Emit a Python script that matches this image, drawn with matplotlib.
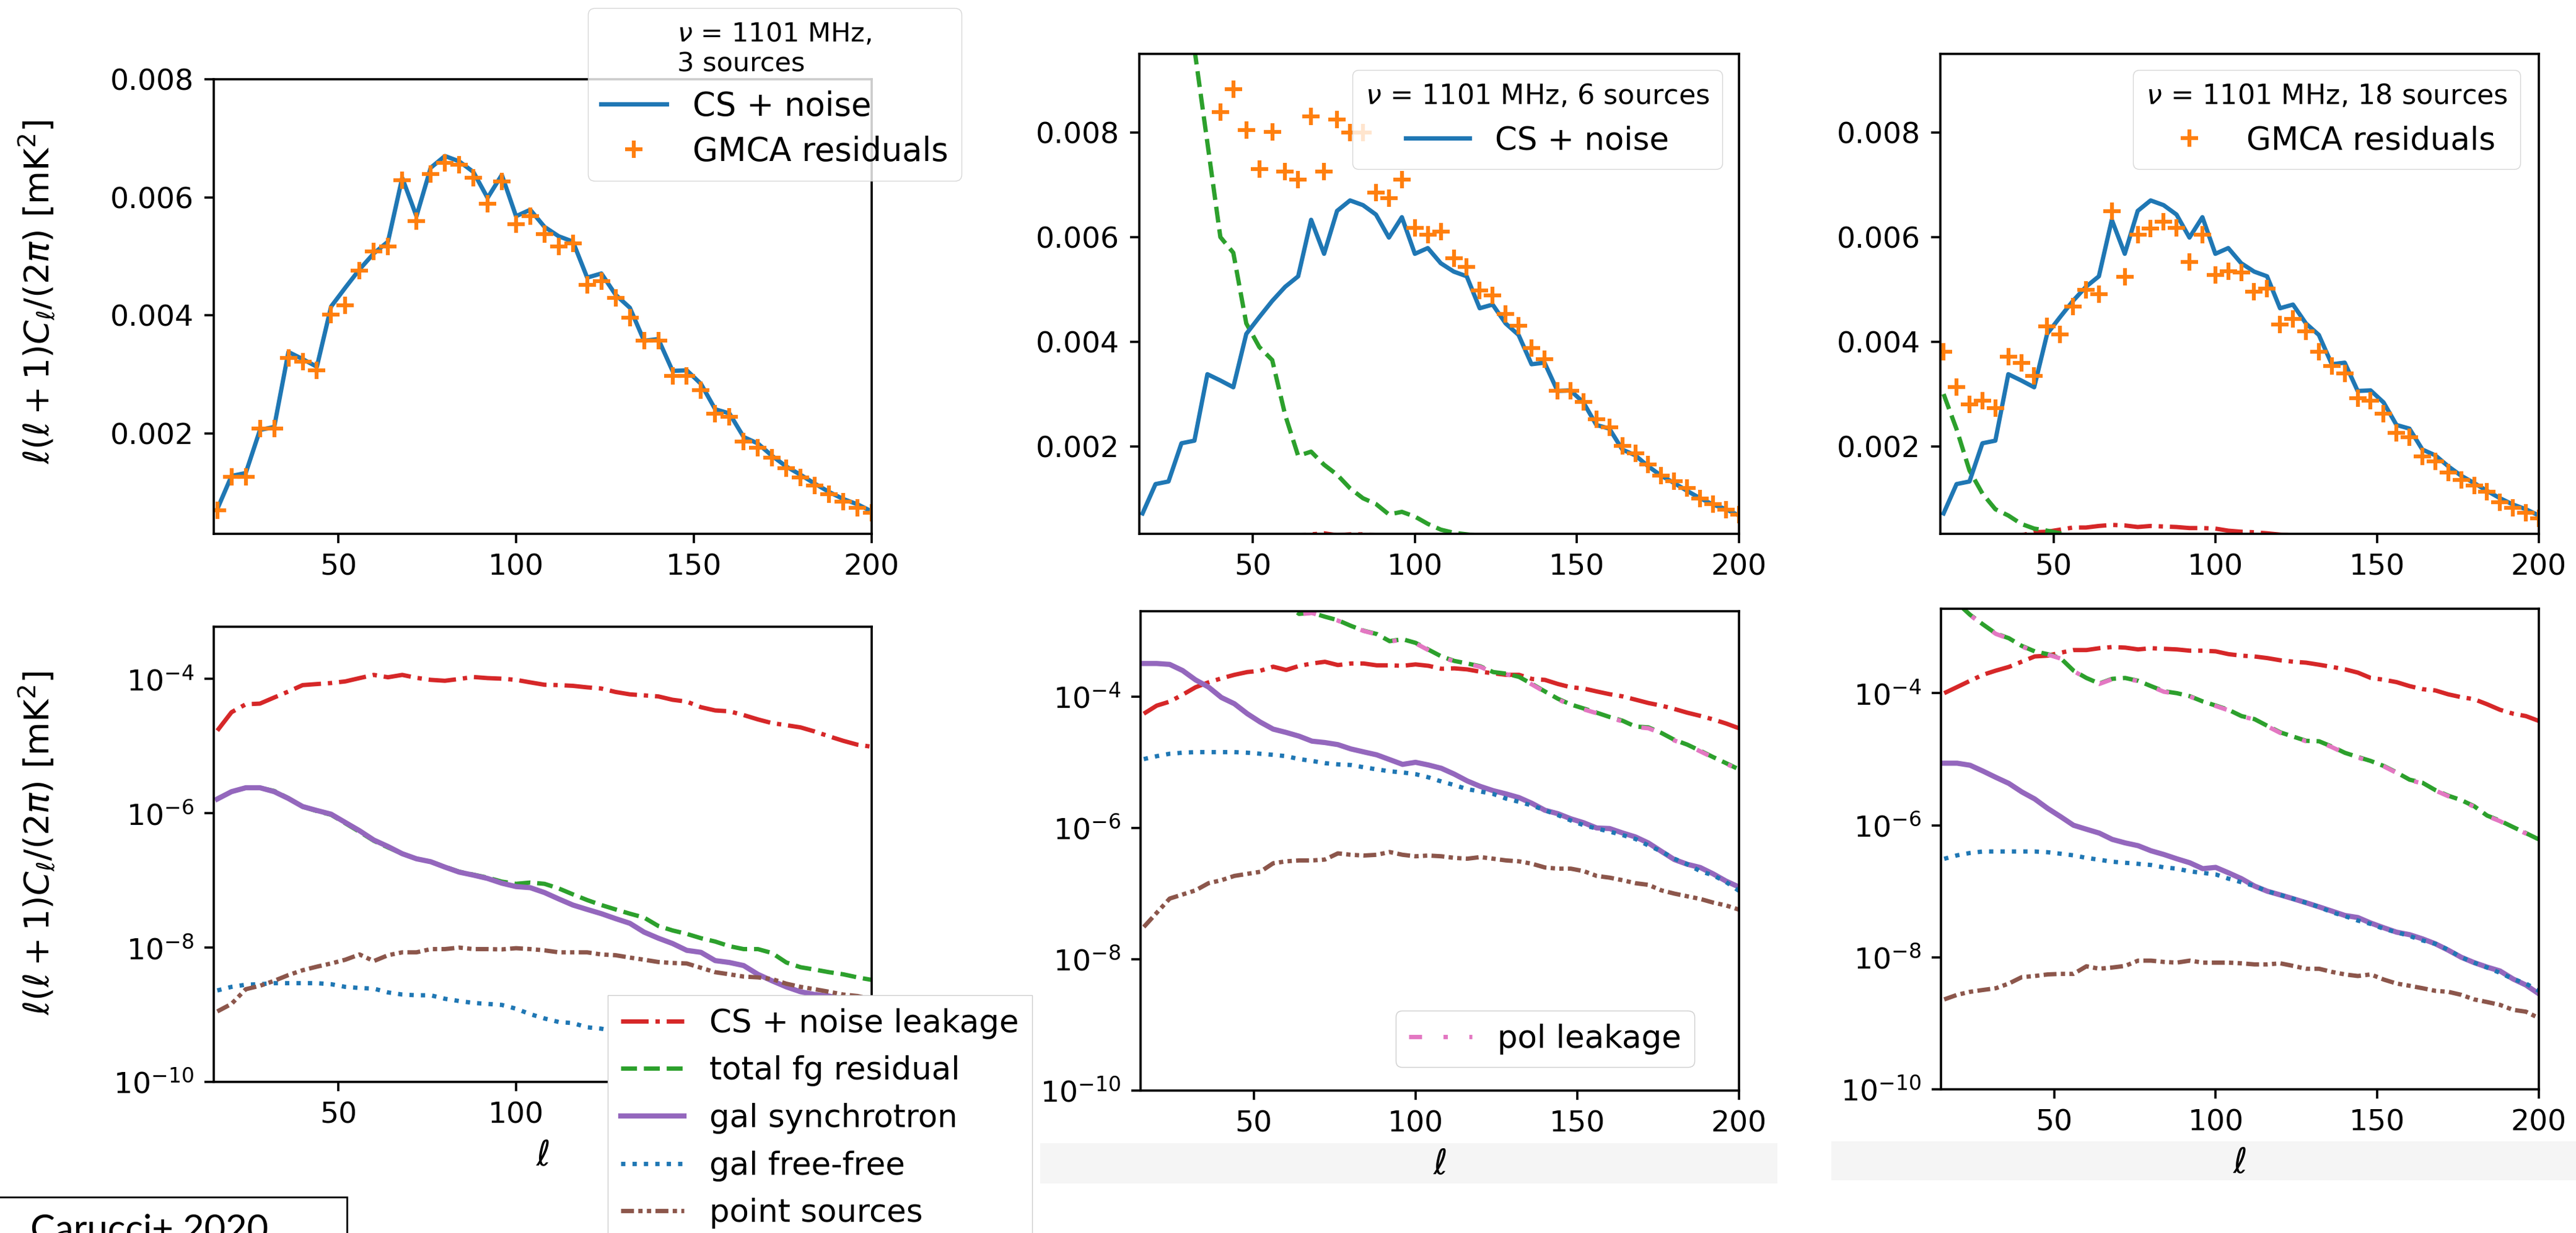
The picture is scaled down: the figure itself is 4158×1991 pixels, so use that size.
import numpy as np
import matplotlib.pyplot as plt
from matplotlib.patches import Rectangle
from matplotlib.ticker import FixedLocator, NullLocator, FormatStrFormatter, LogFormatterSciNotation

# ------------------------------------------------------------
# Data: binned angular power spectra
# (rows of 8 bins: l = 16-44, 48-76, 80-108, 112-140, 144-172, 176-200)
# ------------------------------------------------------------
ell = np.arange(16, 201, 4)
nan = np.nan

cs_noise = [0.00072, 0.00128, 0.00133, 0.00206, 0.00211, 0.00338, 0.00326, 0.00313,
            0.00415, 0.00447, 0.00478, 0.00505, 0.00525, 0.00633, 0.00568, 0.00650,
            0.00670, 0.00661, 0.00643, 0.00599, 0.00638, 0.00568, 0.00579, 0.00550,
            0.00534, 0.00525, 0.00464, 0.00471, 0.00435, 0.00413, 0.00357, 0.00360,
            0.00306, 0.00307, 0.00284, 0.00241, 0.00234, 0.00194, 0.00183, 0.00162,
            0.00144, 0.00130, 0.00115, 0.00101, 0.00089, 0.00080, 0.00068]

gmca_3src = [0.00070, 0.00127, 0.00127, 0.00208, 0.00208, 0.00328, 0.00322, 0.00307,
             0.00401, 0.00417, 0.00476, 0.00508, 0.00517, 0.00629, 0.00560, 0.00639,
             0.00658, 0.00655, 0.00633, 0.00589, 0.00627, 0.00554, 0.00568, 0.00538,
             0.00517, 0.00522, 0.00452, 0.00458, 0.00430, 0.00396, 0.00357, 0.00357,
             0.00297, 0.00297, 0.00273, 0.00233, 0.00228, 0.00186, 0.00176, 0.00159,
             0.00141, 0.00125, 0.00112, 0.00097, 0.00085, 0.00074, 0.00066]

gmca_6src = [nan, nan, nan, nan, nan, nan, 0.00839, 0.00882,
             0.00804, 0.00730, 0.00801, 0.00725, 0.00710, 0.00830, 0.00725, 0.00825,
             0.00800, 0.00800, 0.00685, 0.00674, 0.00710, 0.00618, 0.00604, 0.00611,
             0.00559, 0.00543, 0.00498, 0.00489, 0.00453, 0.00431, 0.00388, 0.00367,
             0.00306, 0.00306, 0.00285, 0.00252, 0.00237, 0.00201, 0.00187, 0.00165,
             0.00144, 0.00133, 0.00120, 0.00101, 0.00090, 0.00079, 0.00070]

gmca_18src = [0.00381, 0.00314, 0.00280, 0.00287, 0.00273, 0.00371, 0.00359, 0.00335,
              0.00429, 0.00414, 0.00467, 0.00499, 0.00491, 0.00649, 0.00524, 0.00604,
              0.00616, 0.00629, 0.00618, 0.00553, 0.00604, 0.00527, 0.00535, 0.00532,
              0.00496, 0.00501, 0.00433, 0.00443, 0.00420, 0.00381, 0.00354, 0.00340,
              0.00292, 0.00287, 0.00263, 0.00226, 0.00217, 0.00181, 0.00172, 0.00150,
              0.00136, 0.00125, 0.00114, 0.00093, 0.00083, 0.00073, 0.00062]

# --- 3 sources ---
leak_3src = [1.7e-5, 3.2e-5, 4.2e-5, 4.3e-5, 5.3e-5, 6.5e-5, 8.1e-5, 8.4e-5,
             8.7e-5, 9.2e-5, 1.03e-4, 1.15e-4, 1.06e-4, 1.15e-4, 1.04e-4, 9.7e-5,
             9.4e-5, 1.0e-4, 1.07e-4, 1.03e-4, 1.01e-4, 9.7e-5, 8.9e-5, 8.2e-5,
             8.1e-5, 7.9e-5, 7.5e-5, 7.2e-5, 6.4e-5, 5.9e-5, 5.7e-5, 5.5e-5,
             4.9e-5, 4.6e-5, 3.8e-5, 3.4e-5, 3.3e-5, 2.9e-5, 2.5e-5, 2.2e-5,
             2.05e-5, 1.9e-5, 1.65e-5, 1.4e-5, 1.2e-5, 1.05e-5, 9.8e-6]
fgres_3src = [1.65e-6, 2.1e-6, 2.4e-6, 2.4e-6, 2.15e-6, 1.68e-6, 1.25e-6, 1.08e-6,
              9.5e-7, 7.1e-7, 5.3e-7, 3.9e-7, 3.1e-7, 2.5e-7, 2.1e-7, 1.9e-7,
              1.6e-7, 1.35e-7, 1.22e-7, 1.1e-7, 9.6e-8, 8.9e-8, 9.3e-8, 8.9e-8,
              7.6e-8, 6.2e-8, 5.1e-8, 4.3e-8, 3.7e-8, 3.2e-8, 2.8e-8, 2.1e-8,
              1.8e-8, 1.6e-8, 1.38e-8, 1.23e-8, 1.05e-8, 9.5e-9, 9.5e-9, 8.3e-9,
              6.0e-9, 5.1e-9, 4.7e-9, 4.3e-9, 4.0e-9, 3.6e-9, 3.3e-9]
sync_3src = [1.63e-6, 2.1e-6, 2.4e-6, 2.4e-6, 2.1e-6, 1.66e-6, 1.26e-6, 1.1e-6,
             9.7e-7, 7.3e-7, 5.5e-7, 4.0e-7, 3.2e-7, 2.5e-7, 2.1e-7, 1.9e-7,
             1.58e-7, 1.33e-7, 1.2e-7, 1.07e-7, 9.1e-8, 8.1e-8, 7.8e-8, 6.6e-8,
             5.3e-8, 4.3e-8, 3.7e-8, 3.2e-8, 2.7e-8, 2.3e-8, 1.7e-8, 1.38e-8,
             1.15e-8, 9.1e-9, 8.5e-9, 6.4e-9, 6.0e-9, 5.4e-9, 4.0e-9, 3.2e-9,
             2.6e-9, 2.2e-9, 2.0e-9, 1.9e-9, 1.65e-9, 1.45e-9, 1.3e-9]
ff_3src = [2.3e-9, 2.6e-9, 2.8e-9, 2.85e-9, 2.95e-9, 2.95e-9, 2.95e-9, 2.95e-9,
           2.85e-9, 2.6e-9, 2.5e-9, 2.45e-9, 2.15e-9, 2.0e-9, 1.95e-9, 1.95e-9,
           1.73e-9, 1.6e-9, 1.5e-9, 1.45e-9, 1.4e-9, 1.23e-9, 1.02e-9, 8.8e-10,
           7.8e-10, 7.5e-10, 6.5e-10, 6.2e-10, 5.6e-10, 5.0e-10, 4.6e-10, 4.2e-10,
           3.8e-10, 3.5e-10, 3.2e-10, 3.0e-10, 2.8e-10, 2.6e-10, 2.4e-10, 2.2e-10,
           2.0e-10, 1.9e-10, 1.8e-10, 1.7e-10, 1.6e-10, 1.5e-10, 1.4e-10]
ps_3src = [1.12e-9, 1.45e-9, 2.4e-9, 2.7e-9, 3.2e-9, 3.9e-9, 4.6e-9, 5.2e-9,
           5.8e-9, 6.6e-9, 7.9e-9, 6.3e-9, 7.7e-9, 8.5e-9, 8.5e-9, 9.5e-9,
           9.5e-9, 1.0e-8, 9.5e-9, 9.5e-9, 9.4e-9, 9.8e-9, 9.5e-9, 9.1e-9,
           8.5e-9, 8.5e-9, 8.5e-9, 7.9e-9, 7.7e-9, 7.1e-9, 6.6e-9, 6.1e-9,
           5.9e-9, 5.8e-9, 5.0e-9, 4.3e-9, 4.0e-9, 3.7e-9, 3.6e-9, 3.4e-9,
           2.9e-9, 2.6e-9, 2.4e-9, 2.2e-9, 2.0e-9, 1.9e-9, 1.7e-9]

# --- 6 sources ---
leak_6src = [5.5e-5, 7.3e-5, 8.4e-5, 1.07e-4, 1.39e-4, 1.65e-4, 1.9e-4, 2.15e-4,
             2.37e-4, 2.48e-4, 2.86e-4, 2.55e-4, 2.94e-4, 3.2e-4, 3.4e-4, 3.03e-4,
             3.2e-4, 3.2e-4, 3.0e-4, 3.0e-4, 2.95e-4, 3.1e-4, 2.95e-4, 2.66e-4,
             2.7e-4, 2.6e-4, 2.4e-4, 2.27e-4, 2.15e-4, 2.15e-4, 1.86e-4, 1.8e-4,
             1.56e-4, 1.39e-4, 1.33e-4, 1.2e-4, 1.09e-4, 1.01e-4, 9.0e-5, 8.0e-5,
             7.3e-5, 6.5e-5, 5.7e-5, 5.1e-5, 4.5e-5, 3.9e-5, 3.3e-5]
fgres_6src = [nan, nan, nan, nan, 0.0096, 0.0078, 0.0060, 0.0057,
              0.00435, 0.0039, 0.00365, 0.0026, 0.00182, 0.0019, 0.00165, 0.00146,
              0.0012, 0.00101, 0.0009, 0.0007, 0.00075, 0.00066, 0.00052, 0.00041,
              0.00035, 0.00032, 0.00029, 2.37e-4, 2.24e-4, 2.0e-4, 1.56e-4, 1.2e-4,
              9.3e-5, 7.6e-5, 6.6e-5, 5.7e-5, 4.9e-5, 4.3e-5, 3.5e-5, 3.4e-5,
              2.8e-5, 2.2e-5, 1.86e-5, 1.5e-5, 1.2e-5, 9.7e-6, 7.8e-6]
pol_6src = [nan, nan, nan, nan, 0.0095, 0.0077, 0.0059, 0.0056,
            0.0043, 0.00385, 0.0036, 0.00257, 0.0018, 0.00188, 0.00163, 0.00144,
            0.00119, 0.0010, 0.00089, 0.00069, 0.00074, 0.00065, 0.00051, 0.00040,
            0.000345, 0.000315, 0.000285, 2.33e-4, 2.2e-4, 1.97e-4, 1.53e-4, 1.18e-4,
            9.1e-5, 7.4e-5, 6.4e-5, 5.6e-5, 4.8e-5, 4.2e-5, 3.45e-5, 3.3e-5,
            2.75e-5, 2.15e-5, 1.83e-5, 1.47e-5, 1.18e-5, 9.5e-6, 7.7e-6]
sync_6src = [3.2e-4, 3.2e-4, 3.1e-4, 2.5e-4, 1.8e-4, 1.4e-4, 9.7e-5, 7.8e-5,
             5.5e-5, 4.1e-5, 3.2e-5, 2.85e-5, 2.5e-5, 2.1e-5, 2.0e-5, 1.86e-5,
             1.6e-5, 1.44e-5, 1.3e-5, 1.1e-5, 9.3e-6, 1.0e-5, 9.1e-6, 8.1e-6,
             6.6e-6, 5.2e-6, 4.3e-6, 3.7e-6, 3.3e-6, 2.9e-6, 2.37e-6, 1.86e-6,
             1.65e-6, 1.38e-6, 1.2e-6, 1.0e-6, 9.8e-7, 8.4e-7, 7.3e-7, 5.9e-7,
             4.4e-7, 3.3e-7, 2.8e-7, 2.5e-7, 2.0e-7, 1.55e-7, 1.26e-7]
ff_6src = [1.12e-5, 1.24e-5, 1.35e-5, 1.4e-5, 1.43e-5, 1.43e-5, 1.43e-5, 1.43e-5,
           1.4e-5, 1.35e-5, 1.3e-5, 1.24e-5, 1.12e-5, 1.05e-5, 9.7e-6, 9.3e-6,
           9.1e-6, 8.4e-6, 7.8e-6, 7.3e-6, 7.0e-6, 6.6e-6, 5.9e-6, 5.1e-6,
           4.5e-6, 3.9e-6, 3.6e-6, 3.3e-6, 2.8e-6, 2.5e-6, 2.2e-6, 1.86e-6,
           1.57e-6, 1.3e-6, 1.1e-6, 9.8e-7, 8.8e-7, 7.8e-7, 6.8e-7, 5.4e-7,
           4.4e-7, 3.4e-7, 2.8e-7, 2.2e-7, 1.9e-7, 1.5e-7, 1.1e-7]
ps_6src = [3.1e-8, 5.1e-8, 8.4e-8, 9.7e-8, 1.12e-7, 1.44e-7, 1.6e-7, 1.86e-7,
           2.0e-7, 2.15e-7, 2.9e-7, 3.1e-7, 3.2e-7, 3.2e-7, 3.3e-7, 4.1e-7,
           3.9e-7, 3.8e-7, 3.9e-7, 4.3e-7, 3.9e-7, 3.7e-7, 3.8e-7, 3.7e-7,
           3.5e-7, 3.4e-7, 3.6e-7, 3.4e-7, 3.2e-7, 3.1e-7, 2.85e-7, 2.5e-7,
           2.4e-7, 2.4e-7, 2.2e-7, 1.86e-7, 1.75e-7, 1.6e-7, 1.44e-7, 1.36e-7,
           1.12e-7, 1.0e-7, 9.1e-8, 8.3e-8, 7.3e-8, 6.6e-8, 5.7e-8]

# --- 18 sources ---
leak_18src = [1.0e-4, 1.24e-4, 1.54e-4, 1.9e-4, 2.2e-4, 2.5e-4, 3.0e-4, 3.6e-4,
              3.7e-4, 4.1e-4, 4.5e-4, 4.5e-4, 4.8e-4, 5.0e-4, 4.9e-4, 4.6e-4,
              4.8e-4, 4.7e-4, 4.6e-4, 4.4e-4, 4.4e-4, 4.3e-4, 3.9e-4, 3.7e-4,
              3.6e-4, 3.4e-4, 3.15e-4, 3.0e-4, 2.9e-4, 2.7e-4, 2.5e-4, 2.3e-4,
              2.05e-4, 1.7e-4, 1.6e-4, 1.47e-4, 1.28e-4, 1.15e-4, 1.1e-4, 9.6e-5,
              8.7e-5, 8.1e-5, 6.8e-5, 5.6e-5, 4.9e-5, 4.5e-5, 3.8e-5]
fgres_18src = [3.0e-3, 2.33e-3, 1.54e-3, 1.1e-3, 8.0e-4, 6.8e-4, 5.2e-4, 4.3e-4,
               3.9e-4, 3.4e-4, 2.2e-4, 1.7e-4, 1.4e-4, 1.65e-4, 1.7e-4, 1.54e-4,
               1.28e-4, 1.07e-4, 1.0e-4, 9.0e-5, 7.5e-5, 6.5e-5, 5.6e-5, 4.5e-5,
               4.05e-5, 3.2e-5, 2.55e-5, 2.2e-5, 1.9e-5, 1.87e-5, 1.55e-5, 1.25e-5,
               1.08e-5, 9.4e-6, 7.9e-6, 6.3e-6, 4.9e-6, 4.4e-6, 3.4e-6, 2.8e-6,
               2.4e-6, 1.94e-6, 1.4e-6, 1.17e-6, 9.4e-7, 7.6e-7, 6.1e-7]
pol_18src = [2.95e-3, 2.3e-3, 1.52e-3, 1.08e-3, 7.9e-4, 6.7e-4, 5.1e-4, 4.25e-4,
             3.85e-4, 3.35e-4, 2.17e-4, 1.68e-4, 1.38e-4, 1.63e-4, 1.68e-4, 1.52e-4,
             1.26e-4, 1.05e-4, 9.8e-5, 8.9e-5, 7.4e-5, 6.4e-5, 5.5e-5, 4.45e-5,
             4.0e-5, 3.15e-5, 2.5e-5, 2.17e-5, 1.87e-5, 1.84e-5, 1.52e-5, 1.23e-5,
             1.06e-5, 9.2e-6, 7.8e-6, 6.2e-6, 4.8e-6, 4.3e-6, 3.35e-6, 2.75e-6,
             2.35e-6, 1.9e-6, 1.38e-6, 1.15e-6, 9.2e-7, 7.5e-7, 6.0e-7]
sync_18src = [8.7e-6, 8.7e-6, 8.1e-6, 6.6e-6, 5.3e-6, 4.3e-6, 3.2e-6, 2.5e-6,
              1.8e-6, 1.35e-6, 1.0e-6, 8.7e-7, 7.6e-7, 6.1e-7, 5.4e-7, 4.9e-7,
              4.1e-7, 3.6e-7, 3.1e-7, 2.7e-7, 2.2e-7, 2.3e-7, 1.9e-7, 1.55e-7,
              1.2e-7, 1.0e-7, 8.8e-8, 7.7e-8, 6.7e-8, 5.8e-8, 5.0e-8, 4.3e-8,
              4.0e-8, 3.3e-8, 2.8e-8, 2.4e-8, 2.2e-8, 1.9e-8, 1.6e-8, 1.28e-8,
              1.0e-8, 8.3e-9, 7.1e-9, 6.2e-9, 4.7e-9, 3.8e-9, 2.8e-9]
ff_18src = [3.1e-7, 3.5e-7, 3.8e-7, 4.0e-7, 4.0e-7, 4.0e-7, 4.0e-7, 4.0e-7,
            3.9e-7, 3.7e-7, 3.5e-7, 3.2e-7, 3.0e-7, 2.8e-7, 2.7e-7, 2.6e-7,
            2.5e-7, 2.3e-7, 2.2e-7, 2.0e-7, 1.9e-7, 1.8e-7, 1.55e-7, 1.37e-7,
            1.2e-7, 1.0e-7, 8.8e-8, 7.7e-8, 6.7e-8, 5.8e-8, 4.8e-8, 4.2e-8,
            3.6e-8, 3.2e-8, 2.7e-8, 2.4e-8, 2.1e-8, 1.8e-8, 1.6e-8, 1.3e-8,
            1.0e-8, 8.3e-9, 7.0e-9, 5.8e-9, 4.7e-9, 4.0e-9, 3.1e-9]
ps_18src = [2.3e-9, 2.7e-9, 3.0e-9, 3.2e-9, 3.4e-9, 4.0e-9, 5.0e-9, 5.2e-9,
            5.5e-9, 5.6e-9, 5.6e-9, 7.3e-9, 6.7e-9, 7.0e-9, 7.4e-9, 8.9e-9,
            8.9e-9, 8.5e-9, 8.3e-9, 8.9e-9, 8.3e-9, 8.3e-9, 8.3e-9, 8.1e-9,
            7.8e-9, 7.8e-9, 8.1e-9, 7.4e-9, 6.7e-9, 6.7e-9, 6.0e-9, 5.5e-9,
            5.2e-9, 5.5e-9, 4.6e-9, 4.0e-9, 3.7e-9, 3.4e-9, 3.1e-9, 3.0e-9,
            2.7e-9, 2.3e-9, 2.1e-9, 1.9e-9, 1.6e-9, 1.5e-9, 1.2e-9]

gmca = [gmca_3src, gmca_6src, gmca_18src]
leak = [leak_3src, leak_6src, leak_18src]
fgres = [fgres_3src, fgres_6src, fgres_18src]
sync = [sync_3src, sync_6src, sync_18src]
ff = [ff_3src, ff_6src, ff_18src]
ps = [ps_3src, ps_6src, ps_18src]
pol = [None, pol_6src, pol_18src]

# ------------------------------------------------------------
# Figure
# ------------------------------------------------------------
plt.rcParams.update({
    "font.family": "DejaVu Sans",
    "mathtext.fontset": "dejavusans",
    "font.size": 34,
    "axes.linewidth": 2.6,
    "xtick.major.width": 2.6, "ytick.major.width": 2.6,
    "xtick.major.size": 11, "ytick.major.size": 11,
    "xtick.major.pad": 12, "ytick.major.pad": 12,
    "xtick.labelsize": 34, "ytick.labelsize": 34,
    "legend.fontsize": 37,
})

W, H = 4158, 1991
fig = plt.figure(figsize=(W / 100, H / 100), dpi=100)


def px_axes(left, top, right, bottom):
    return fig.add_axes([left / W, 1 - bottom / H, (right - left) / W, (bottom - top) / H])


def fig_xy(x, y):
    return (x / W, 1 - y / H)


lw = 5
ylabel = r"$\ell(\ell+1)C_\ell/(2\pi)$ [mK$^2$]"

top_boxes = [(345, 128, 1407, 862), (1839, 87, 2807, 862), (3132, 87, 4098, 862)]
top_ylims = [(0.0003, 0.008), (0.00033, 0.0095), (0.00033, 0.0095)]
bot_boxes = [(345, 1012, 1407, 1747), (1841, 987, 2807, 1761), (3133, 983, 4098, 1759)]
bot_ylims = [(1e-10, 6e-4), (1e-10, 2e-3), (1e-10, 1.9e-3)]

bot_handles = None
for i in range(3):
    # --- linear panel: CS + noise vs GMCA residuals ---
    ax = px_axes(*top_boxes[i])
    ax.plot(ell, leak[i], color="tab:red", ls="-.", lw=lw)
    ax.plot(ell, fgres[i], color="tab:green", ls="--", lw=lw)
    l_cs, = ax.plot(ell, cs_noise, color="tab:blue", lw=lw, label="CS + noise")
    l_gm, = ax.plot(ell, gmca[i], ls="none", marker="+", ms=20, mew=4.5,
                    color="tab:orange", label="GMCA residuals")
    ax.set_xlim(15, 200)
    ax.set_ylim(*top_ylims[i])
    ax.xaxis.set_major_locator(FixedLocator([50, 100, 150, 200]))
    ax.yaxis.set_major_locator(FixedLocator([0.002, 0.004, 0.006, 0.008]))
    ax.yaxis.set_major_formatter(FormatStrFormatter("%.3f"))

    if i == 0:
        ax.set_ylabel(ylabel, fontsize=40)
        ax.yaxis.set_label_coords(-0.237, 0.533)
        ax.legend(handles=[l_cs, l_gm], title="$\\nu$ = 1101 MHz,\n3 sources",
                  fontsize=38, title_fontsize=31, loc="upper left",
                  bbox_to_anchor=fig_xy(949, 13), bbox_transform=fig.transFigure,
                  borderaxespad=0, labelspacing=0.4)
    elif i == 1:
        ax.legend(handles=[l_cs], title="$\\nu$ = 1101 MHz, 6 sources",
                  title_fontsize=32, loc="upper left", bbox_to_anchor=fig_xy(2183, 113),
                  bbox_transform=fig.transFigure, borderaxespad=0)
    else:
        ax.legend(handles=[l_gm], title="$\\nu$ = 1101 MHz, 18 sources",
                  title_fontsize=32, loc="upper left", bbox_to_anchor=fig_xy(3443, 113),
                  bbox_transform=fig.transFigure, borderaxespad=0)

    # --- log panel: residual components ---
    bx = px_axes(*bot_boxes[i])
    h1, = bx.plot(ell, leak[i], color="tab:red", ls="-.", lw=lw, label="CS + noise leakage")
    h2, = bx.plot(ell, fgres[i], color="tab:green", ls="--", lw=lw, label="total fg residual")
    h3, = bx.plot(ell, sync[i], color="tab:purple", lw=6, label="gal synchrotron")
    h4, = bx.plot(ell, ff[i], color="tab:blue", ls=":", lw=lw, label="gal free-free")
    h5, = bx.plot(ell, ps[i], color="tab:brown", ls=(0, (3, 1, 1, 1, 1, 1)), lw=lw,
                  label="point sources")
    if pol[i] is not None:
        h6, = bx.plot(ell, pol[i], color="tab:pink", ls=(0, (3, 5, 1, 5)), lw=lw,
                      label="pol leakage")
        bx.legend(handles=[h6], loc="upper left", bbox_to_anchor=fig_xy(2253, 1632),
                  bbox_transform=fig.transFigure, borderaxespad=0)
    bx.set_yscale("log")
    bx.set_xlim(15, 200)
    bx.set_ylim(*bot_ylims[i])
    bx.xaxis.set_major_locator(FixedLocator([50, 100, 150, 200]))
    bx.yaxis.set_major_locator(FixedLocator([1e-10, 1e-8, 1e-6, 1e-4]))
    bx.yaxis.set_major_formatter(LogFormatterSciNotation())
    bx.yaxis.set_minor_locator(NullLocator())
    bx.set_xlabel(r"$\ell$", fontsize=40, labelpad=12)
    if i == 0:
        bx.set_ylabel(ylabel, fontsize=40)
        bx.yaxis.set_label_coords(-0.237, 0.525)
        bot_handles = [h1, h2, h3, h4, h5]

# shared legend for the residual components
fig.legend(handles=bot_handles, loc="upper left", bbox_to_anchor=fig_xy(981, 1607),
           borderaxespad=0, labelspacing=0.52, framealpha=1, fancybox=False,
           edgecolor="0.8")

# light grey strips behind the l labels of the 2nd and 3rd columns
for x0, y0, x1, y1 in [(1679, 1846, 2869, 1911), (2956, 1843, 4158, 1906)]:
    fig.patches.append(Rectangle(fig_xy(x0, y1), (x1 - x0) / W, (y1 - y0) / H,
                                 transform=fig.transFigure, facecolor="#f5f5f5",
                                 edgecolor="none", zorder=-1))

# citation box, bottom left (cut by the image edge)
fig.patches.append(Rectangle(fig_xy(-10, 2050), 570 / W, (2050 - 1933) / H,
                             transform=fig.transFigure, facecolor="white",
                             edgecolor="black", lw=2, zorder=3))
fig.text(49 / W, 1 - 1960 / H, "Carucci+ 2020", fontsize=43, family="Lato",
         fontweight="normal", va="top", ha="left", zorder=4)

fig.savefig("out.png", dpi=100)
